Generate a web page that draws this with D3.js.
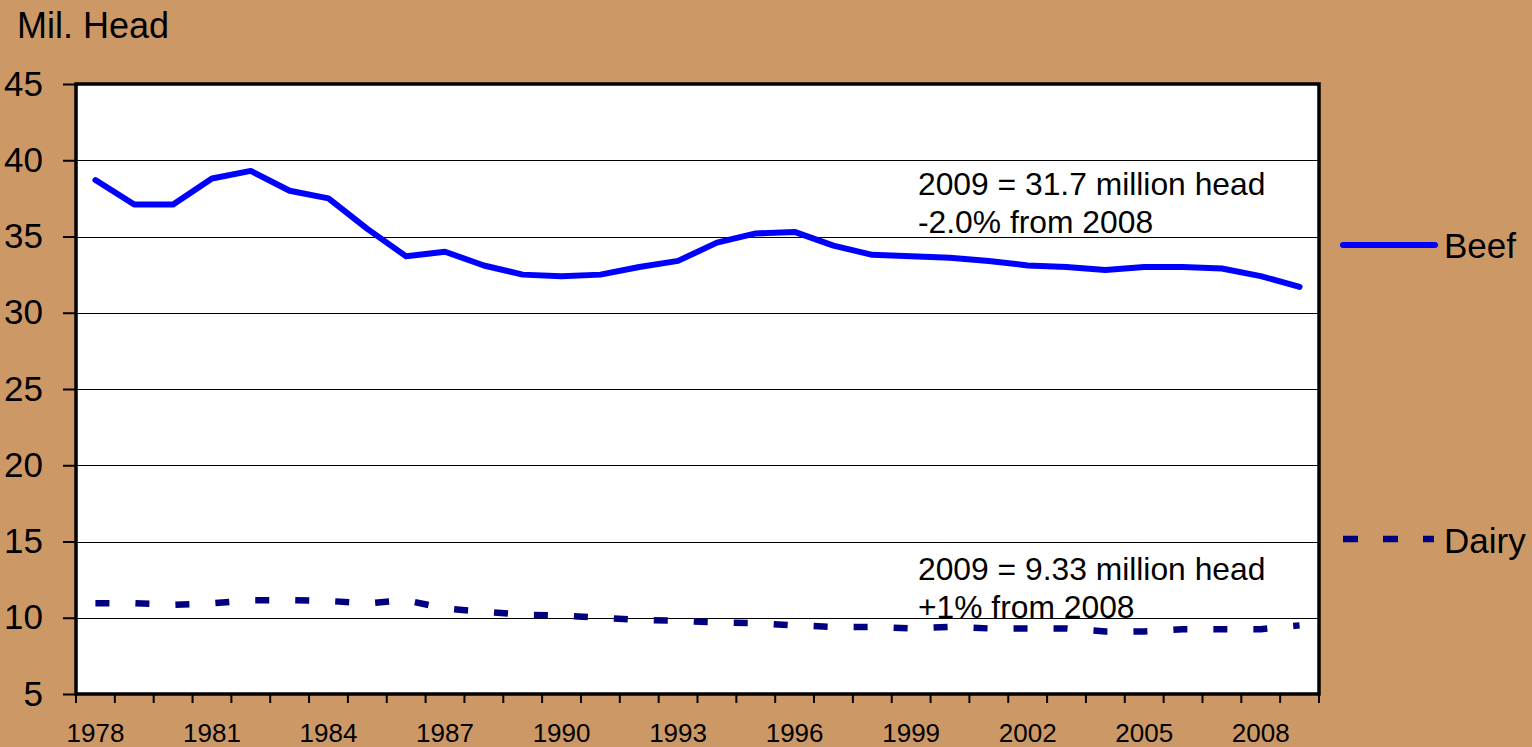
<!DOCTYPE html>
<html>
<head>
<meta charset="utf-8">
<script src="https://cdn.jsdelivr.net/npm/d3@7/dist/d3.min.js"></script>
<style>
  html, body { margin: 0; padding: 0; background: #cc9966; }
  svg { display: block; font-family: "Liberation Sans", Arial, sans-serif; }
</style>
</head>
<body>
<div class="chart"></div>
<script>
// data (million head, Jan 1 inventory)
var years = d3.range(1978, 2010);
var beefCows = [38.7, 37.1, 37.1, 38.8, 39.3, 38.0, 37.5, 35.5, 33.7, 34.0, 33.1, 32.5,
                32.4, 32.5, 33.0, 33.4, 34.6, 35.2, 35.3, 34.4, 33.8, 33.7, 33.6, 33.4,
                33.1, 33.0, 32.8, 33.0, 33.0, 32.9, 32.4, 31.7];
var dairyCows = [10.95, 10.95, 10.85, 10.95, 11.15, 11.15, 11.1, 10.95, 11.15, 10.6, 10.4, 10.2,
                 10.15, 10.0, 9.85, 9.8, 9.7, 9.65, 9.5, 9.4, 9.4, 9.3, 9.4, 9.3,
                 9.3, 9.3, 9.1, 9.1, 9.25, 9.25, 9.25, 9.5];
var yTicks = [5, 10, 15, 20, 25, 30, 35, 40, 45];
var xLabelYears = [1978, 1981, 1984, 1987, 1990, 1993, 1996, 1999, 2002, 2005, 2008];
var beefNote = ["2009 = 31.7 million head", "-2.0% from 2008"];
var dairyNote = ["2009 = 9.33 million head", "+1% from 2008"];

var svgWidth = 1532;
var svgHeight = 747;
var margin = { top: 84, left: 76 };
var width = 1243;
var height = 610;

var svg = d3.select(".chart")
  .append("svg")
  .attr("width", svgWidth)
  .attr("height", svgHeight);

var chart = svg.append("g")
  .attr("transform", "translate(" + margin.left + "," + margin.top + ")");

// scales
var xScale = d3.scaleBand().domain(years).range([0, width]);
var yScale = d3.scaleLinear().domain([5, 45]).range([height, 0]);
function xc(yr) { return xScale(yr) + xScale.bandwidth() / 2; }

// plot area
chart.append("rect")
  .attr("width", width)
  .attr("height", height)
  .attr("fill", "#ffffff");

// gridlines
chart.append("g")
  .selectAll("line")
  .data(yTicks.filter(function(d) { return d > 5 && d < 45; }))
  .enter()
  .append("line")
  .attr("x1", 0)
  .attr("x2", width)
  .attr("y1", function(d) { return Math.round(yScale(d)) + 0.5; })
  .attr("y2", function(d) { return Math.round(yScale(d)) + 0.5; })
  .attr("stroke", "#000")
  .attr("stroke-width", 1.2);

// lines
var lineBeef = d3.line()
  .x(function(d, i) { return xc(years[i]); })
  .y(function(d) { return yScale(d); });

chart.append("path")
  .datum(beefCows)
  .attr("d", lineBeef)
  .attr("fill", "none")
  .attr("stroke", "#0000ff")
  .attr("stroke-width", 6)
  .attr("stroke-linejoin", "round")
  .attr("stroke-linecap", "round");

chart.append("path")
  .datum(dairyCows)
  .attr("d", lineBeef)
  .attr("fill", "none")
  .attr("stroke", "#000080")
  .attr("stroke-width", 6.5)
  .attr("stroke-dasharray", "14,26");

// border of plot area
chart.append("rect")
  .attr("width", width)
  .attr("height", height)
  .attr("fill", "none")
  .attr("stroke", "#000")
  .attr("stroke-width", 3.5);

// y axis ticks + labels
var leftAxis = d3.axisLeft(yScale).tickValues(yTicks).tickSize(13).tickPadding(20);
var yAxisG = chart.append("g").call(leftAxis);
yAxisG.select(".domain").remove();
yAxisG.selectAll(".tick line").attr("stroke", "#000").attr("stroke-width", 2);
yAxisG.selectAll(".tick text")
  .attr("fill", "#000")
  .style("font-size", "35px")
  .style("font-family", "Liberation Sans, Arial, sans-serif");

// x axis: ticks on category boundaries, labels every 3 years
var tickX = years.map(function(y) { return xScale(y); }).concat([width]);
var xAxisG = chart.append("g").attr("transform", "translate(0," + height + ")");
xAxisG.selectAll("line")
  .data(tickX)
  .enter()
  .append("line")
  .attr("x1", function(d) { return d; })
  .attr("x2", function(d) { return d; })
  .attr("y1", 0)
  .attr("y2", 9)
  .attr("stroke", "#000")
  .attr("stroke-width", 2);

xAxisG.selectAll("text")
  .data(xLabelYears)
  .enter()
  .append("text")
  .attr("x", function(d) { return xc(d); })
  .attr("y", 48)
  .attr("text-anchor", "middle")
  .style("font-size", "26px")
  .text(function(d) { return d; });

// axis title
svg.append("text")
  .attr("x", 17)
  .attr("y", 38)
  .style("font-size", "36px")
  .text("Mil. Head");

// annotations
function note(lines, yBase) {
  svg.append("g")
    .selectAll("text")
    .data(lines)
    .enter()
    .append("text")
    .attr("x", 918)
    .attr("y", function(d, i) { return yBase + i * 38; })
    .style("font-size", "31.8px")
    .text(function(d) { return d; });
}
note(beefNote, 195);
note(dairyNote, 580);

// legend
var legend = svg.append("g");
legend.append("line")
  .attr("x1", 1343).attr("x2", 1435)
  .attr("y1", 245).attr("y2", 245)
  .attr("stroke", "#0000ff")
  .attr("stroke-width", 6)
  .attr("stroke-linecap", "round");
legend.append("text")
  .attr("x", 1444).attr("y", 258)
  .style("font-size", "35px")
  .text("Beef");

legend.append("line")
  .attr("x1", 1343).attr("x2", 1434)
  .attr("y1", 539).attr("y2", 539)
  .attr("stroke", "#000080")
  .attr("stroke-width", 6.5)
  .attr("stroke-dasharray", "15,25");
legend.append("text")
  .attr("x", 1444).attr("y", 553)
  .style("font-size", "35px")
  .text("Dairy");
</script>
</body>
</html>
